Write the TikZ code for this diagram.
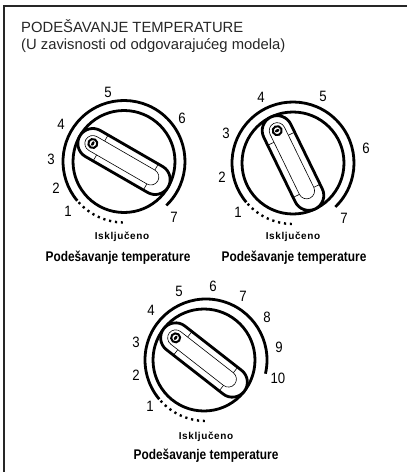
\documentclass[tikz,border=0pt]{standalone}
\usepackage{fontspec}
\setmainfont{Liberation Sans}
\newcommand{\dial}[4]{%
	\begin{scope}[shift={#1}, yscale=-1]
		\draw[ring] (0,0) circle[radius=51];
		\begin{scope}[shift={(#4,0)}]
			\draw[ring] (#3:61) arc[start angle=#3, end angle=220, radius=61];
			\draw[off] (222:61) arc[start angle=222, end angle=269, radius=61];
		\end{scope}
		\begin{scope}[rotate=#2]
			\draw[ring, fill=white] (-36,15) -- (36,15) arc[start angle=90, end angle=-90, radius=15] -- (-36,-15) arc[start angle=270, end angle=90, radius=15] -- cycle;
			\draw[thin line] (-36,8) -- (31,8) arc[start angle=90, end angle=-90, radius=8] -- (-36,-8) arc[start angle=270, end angle=90, radius=8];
			\draw[thin line] (-27,14) -- (-27,8) (-27,-14) -- (-27,-8);
			\draw[thin line] (31,14) -- (31,8) (31,-14) -- (31,-8);
			\draw[black, fill=white, line width=2pt] (-36,0) circle[radius=4.5];
			\fill (-36,0) ellipse[x radius=1.4, y radius=2.4];
		\end{scope}
	\end{scope}
}
\begin{document}
\begin{tikzpicture}[
	x=1pt, y=-1pt,
	ring/.style={draw=black, line width=2.8pt},
	off/.style={draw=black, line width=2.4pt, dash pattern=on 2.2pt off 3.8pt},
	thin line/.style={draw=black, line width=0.6pt},
	number/.style={font=\fontsize{15}{15}\selectfont\addfontfeature{FakeStretch=0.88}, inner sep=0pt},
	small bold/.style={font=\fontsize{10}{10}\selectfont\bfseries\addfontfeature{LetterSpace=6}, inner sep=0pt},
	big bold/.style={font=\fontsize{14}{14}\selectfont\bfseries\addfontfeature{FakeStretch=0.85}, inner sep=0pt},
	title/.style={font=\fontsize{14.8}{14.8}\selectfont, inner sep=0pt, anchor=west, text=black!85}
	]
	\useasboundingbox (0,0) rectangle (407,472);
	
	% Frame
	\draw[line width=1.8pt, black!85] (4,472) -- (4,6) -- (407,6);
	\node[title] (head) at (21,26) {PODEŠAVANJE TEMPERATURE};
	\node[title] (sub) at (21,46) {(U zavisnosti od odgovarajućeg modela)};
	
	% Dials
	\dial{(124,161.5)}{30}{-46}{0}
	\dial{(293,163)}{64}{-46}{0}
	\dial{(204,360)}{38}{-13}{2}
	
	% Scale numbers
	\foreach \num/\px/\py in {1/68/211, 2/56/188, 3/51/159, 4/61/124, 5/108/92, 6/182/118, 7/174/217}
		\node[number] (a\num) at (\px,\py) {\num};
	\foreach \num/\px/\py in {1/238/212, 2/222/177, 3/226/133, 4/261/97, 5/323/96, 6/366/148, 7/344/218}
		\node[number] (b\num) at (\px,\py) {\num};
	\foreach \num/\px/\py in {1/150/406, 2/136/375, 3/136/342, 4/151/310, 5/179/291, 6/213/286, 7/243/296, 8/267/317, 9/279/347, 10/278/378}
		\node[number] (c\num) at (\px,\py) {\num};
	
	% Labels below
	\foreach \name/\px/\py/\qx/\qy in {a/122/237/118/258, b/293/237/294/258, c/206/437/206/456} {
		\node[small bold] (\name off) at (\px,\py) {Isključeno};
		\node[big bold] (\name set) at (\qx,\qy) {Podešavanje temperature};
	}
\end{tikzpicture}
\end{document}
